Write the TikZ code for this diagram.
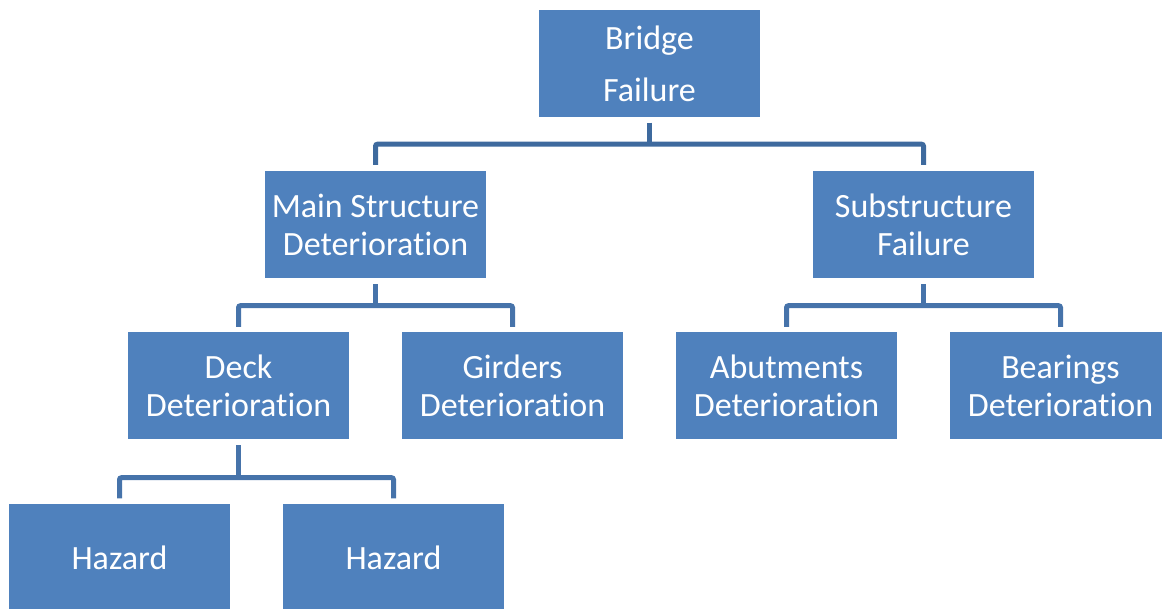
\documentclass[tikz,border=0pt]{standalone}
\usepackage{fontspec}
\setmainfont{Carlito}[Ligatures={NoCommon}]
\definecolor{boxblue}{HTML}{4F81BD}
\definecolor{linkdark}{HTML}{3E6A9E}
\definecolor{linkblue}{HTML}{4673AA}
\begin{document}
\begin{tikzpicture}[x=1pt,y=-1pt,
  box/.style={fill=boxblue, text=white, minimum width=221pt, minimum height=107pt,
    inner sep=0pt, align=center, font=\fontsize{34}{38}\selectfont},
  link/.style={draw=linkblue, line width=5pt, rounded corners=2pt}]
\useasboundingbox (0,0) rectangle (1162,609);
\clip (0,0) rectangle (1162,609);
\node[box, font=\fontsize{34}{52}\selectfont] (B) at (649.5,64) {Bridge\\Failure};
\node[box] (M) at (375.5,224.5) {Main Structure\\Deterioration};
\node[box] (S) at (923.5,224.5) {Substructure\\Failure};
\node[box] (D) at (238.5,385.5) {Deck\\Deterioration};
\node[box] (G) at (512.5,385.5) {Girders\\Deterioration};
\node[box] (A) at (786.5,385.5) {Abutments\\Deterioration};
\node[box] (Be) at (1060.5,385.5) {Bearings\\Deterioration};
\node[box] (H1) at (119.5,557.5) {Hazard};
\node[box] (H2) at (393.5,557.5) {Hazard};
% level 1
\draw[link, draw=linkdark] ([yshift=-5pt]B.south) -- ([yshift=-26.5pt]B.south);
\draw[link, draw=linkdark] ([yshift=6pt]M.north) |- ([yshift=-26.5pt]B.south) -| ([yshift=6pt]S.north);
% level 2
\draw[link] ([yshift=-6pt]M.south) -- ([yshift=-27.5pt]M.south);
\draw[link] ([yshift=5pt]D.north) |- ([yshift=-27.5pt]M.south) -| ([yshift=5pt]G.north);
\draw[link] ([yshift=-6pt]S.south) -- ([yshift=-27.5pt]S.south);
\draw[link] ([yshift=5pt]A.north) |- ([yshift=-27.5pt]S.south) -| ([yshift=5pt]Be.north);
% level 3
\draw[link] ([yshift=-6pt]D.south) -- ([yshift=-38.5pt]D.south);
\draw[link] ([yshift=5.5pt]H1.north) |- ([yshift=-38.5pt]D.south) -| ([yshift=5.5pt]H2.north);
\end{tikzpicture}
\end{document}
